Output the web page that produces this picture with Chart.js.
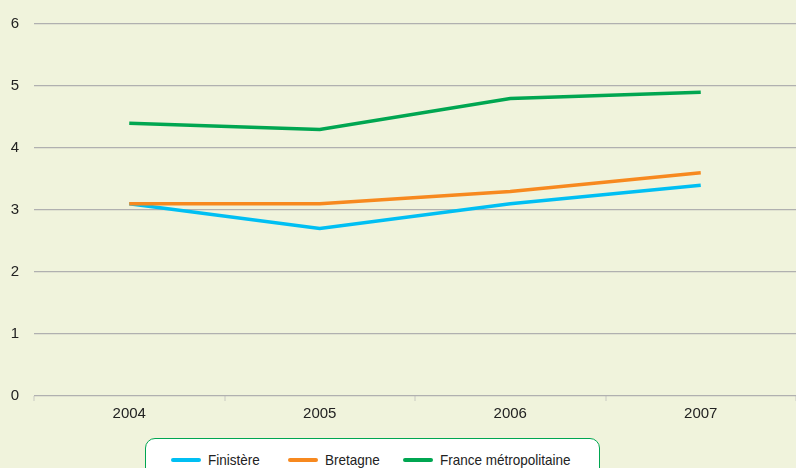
<!DOCTYPE html>
<html>
<head>
<meta charset="utf-8">
<script src="https://cdn.jsdelivr.net/npm/chart.js@4/dist/chart.umd.min.js"></script>
<style>
  html, body { margin: 0; padding: 0; background: #f0f3dc; overflow: hidden; }
  #wrap { position: relative; width: 796px; height: 468px; }
  #legend {
    position: absolute; left: 145px; top: 438px; width: 453px; height: 44px;
    background: #fff; border: 1.5px solid #00a651; border-radius: 10px;
    font-family: "Liberation Sans Narrow", "Liberation Sans", sans-serif; font-size: 15px; color: #222;
  }
  .item { position: absolute; top: 12px; white-space: nowrap; }
  .item i { display: inline-block; width: 30px; height: 4px; border-radius: 2px; vertical-align: middle; margin-right: 7px; position: relative; top: -1px; }
  .item b { font-weight: normal; display: inline-block; transform: scaleX(0.9); transform-origin: left center; }
</style>
</head>
<body>
<div id="wrap">
  <canvas id="chart" width="796" height="468"></canvas>
  <div id="legend"></div>
</div>
<script>
// Years on the x axis
const years = ["2004", "2005", "2006", "2007"];

// Series values
const finistere = [3.1, 2.7, 3.1, 3.4];
const bretagne = [3.1, 3.1, 3.3, 3.6];
const franceMetro = [4.4, 4.3, 4.8, 4.9];

// Series names and colours
const seriesNames = ["Finistère", "Bretagne", "France métropolitaine"];
const seriesColors = ["#00bff3", "#f7891f", "#00a651"];

// Y axis ticks
const yTicks = [0, 1, 2, 3, 4, 5, 6];

const fontFamily = '"Liberation Sans Narrow", "Liberation Sans", sans-serif';

function makeDataset(i, data) {
  return {
    label: seriesNames[i],
    data: data,
    borderColor: seriesColors[i],
    backgroundColor: seriesColors[i],
    borderWidth: 3.5,
    pointRadius: 0,
    tension: 0,
    fill: false,
  };
}

const ctx = document.getElementById("chart").getContext("2d");
new Chart(ctx, {
  type: "line",
  data: {
    labels: years,
    datasets: [
      makeDataset(2, franceMetro),
      makeDataset(1, bretagne),
      makeDataset(0, finistere),
    ],
  },
  options: {
    responsive: false,
    animation: false,
    layout: { padding: { top: 19, right: 0, bottom: 42, left: 0 } },
    plugins: { legend: { display: false }, tooltip: { enabled: false } },
    scales: {
      x: {
        offset: true,
        grid: { offset: true, drawOnChartArea: false, drawTicks: true, tickLength: 5, color: "#dcdecf", lineWidth: 2 },
        border: { display: false },
        ticks: { color: "#222", font: { family: fontFamily, size: 15 }, padding: 4 },
        afterFit(scale) { scale.height = 30; },
      },
      y: {
        min: 0,
        max: 6,
        afterBuildTicks(scale) { scale.ticks = yTicks.map(v => ({ value: v })); },
        grid: { drawTicks: false, color: "#b0b0b0", lineWidth: 1.2 },
        border: { display: false },
        ticks: { color: "#222", font: { family: fontFamily, size: 15 }, padding: 15 },
        afterFit(scale) { scale.width = 34; },
      },
    },
  },
});

// HTML legend box
const legendLeft = [25, 142, 257];
const legend = document.getElementById("legend");
seriesNames.forEach((name, i) => {
  const el = document.createElement("span");
  el.className = "item";
  el.style.left = legendLeft[i] + "px";
  el.innerHTML = '<i style="background:' + seriesColors[i] + '"></i><b>' + name + '</b>';
  legend.appendChild(el);
});
</script>
</body>
</html>
